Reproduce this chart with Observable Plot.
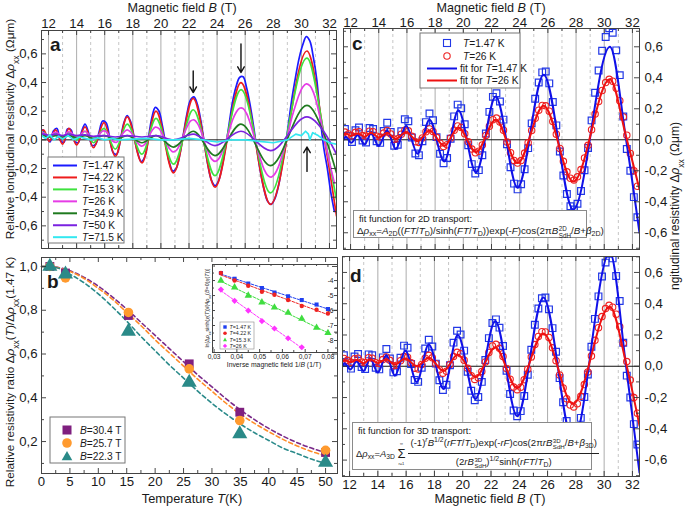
<!DOCTYPE html>
<html><head><meta charset="utf-8">
<script src="https://cdn.jsdelivr.net/npm/d3@7"></script>
<script src="https://cdn.jsdelivr.net/npm/@observablehq/plot@0.6"></script>
<style>
body{margin:0;background:#fff;}
#fig{position:relative;width:685px;height:508px;overflow:hidden;font-family:"Liberation Sans",Arial,sans-serif;color:#1a1a1a;background:#fff;}
#fig svg{position:absolute;left:0;top:0;}
.fbox{position:absolute;background:#fff;border:1px solid #8a8a8a;font-size:9.4px;color:#1a1a1a;white-space:nowrap;line-height:1;box-sizing:border-box;}
.fbox sub,.fbox sup{font-size:72%;line-height:0;}
.fbox sub{vertical-align:-0.3em}
.fbox sup{vertical-align:0.6em}
.ss{display:inline-block;vertical-align:-0.55em;font-size:64%;line-height:1.05;text-align:left;margin-left:0.5px}
.ss span{display:block}
.frac{display:inline-block;vertical-align:middle;text-align:center}
.frac .n{display:block;border-bottom:0.9px solid #222;padding:0 2px 2px}
.frac .d{display:block;padding-top:3px}
.sum{display:inline-flex;flex-direction:column;align-items:center;vertical-align:middle;gap:3px}
.sum .lim{display:block;font-size:4px;line-height:4px;height:4px}
.sum .sg{display:block;font-size:13px;line-height:10px;height:10px}
</style></head><body><div id="fig"></div>
<script>
// ---------- data ----------
// panel a: knots (field B in T) at extrema, and values of Δρxx (Ωμm) per temperature
const knotsB   = [11.5, 11.65, 12.05, 12.5, 13.0, 13.45, 14.0, 14.6, 15.2, 15.95, 16.75, 17.6, 18.65, 19.65, 20.9, 22.3, 23.85, 25.7, 27.8, 30.4, 31.65, 32.5];
const rho_T422 = [0.06, 0.07, -0.01, 0.07, -0.03, 0.08, -0.035, 0.09, -0.055, 0.12, -0.115, 0.16, -0.16, 0.20, -0.23, 0.29, -0.33, 0.40, -0.45, 0.62, 0.0, -0.53];
const rho_T153 = [0.05, 0.05, 0.02, 0.05, 0.01, 0.05, 0.0, 0.06, -0.02, 0.08, -0.065, 0.11, -0.10, 0.15, -0.17, 0.21, -0.25, 0.35, -0.37, 0.57, 0.02, -0.42];
const rho_T349 = [0.03, 0.03, 0.02, 0.03, 0.02, 0.03, 0.015, 0.03, 0.01, 0.03, 0.005, 0.03, -0.02, 0.03, -0.05, 0.06, -0.11, 0.11, -0.18, 0.24, 0.03, -0.23];
const rho_T50  = [0.04, 0.04, 0.03, 0.04, 0.03, 0.04, 0.03, 0.035, 0.025, 0.03, 0.02, 0.03, 0.02, 0.03, 0.0, 0.04, -0.04, 0.06, -0.075, 0.16, 0.05, -0.10];
const cyanB    = [11.5, 11.8, 12.1, 12.4, 12.7, 13.0, 13.4, 13.8, 14.2, 14.6, 15.0, 15.5, 16.0, 16.5, 17.0, 18.0, 19.0, 20.0, 21.0, 22.0, 23.0, 24.0, 25.0, 26.0, 27.0, 28.0, 29.0, 29.6, 30.0, 30.3, 30.5, 30.6, 30.8, 31.2, 31.6, 32.0, 32.5];
const rho_T715 = [0.03, 0.01, 0.035, 0.0, 0.025, 0.005, 0.03, 0.0, 0.02, 0.01, 0.0, 0.015, 0.0, 0.01, 0.0, 0.005, 0.01, 0.0, 0.0, 0.01, 0.0, -0.015, 0.0, 0.0, -0.01, -0.02, 0.0, 0.04, 0.03, 0.06, 0.04, 0.0, 0.05, 0.03, 0.0, -0.02, -0.03];
// measured points T=1.47 K and T=26 K (panels a, c, d)
const dataB = [11.6, 11.85, 12.1, 12.35, 12.6, 12.85, 13.1, 13.35, 13.6, 13.85,
  14.1, 14.35, 14.6, 14.85, 15.1, 15.35, 15.6, 15.85, 16.1, 16.35,
  16.6, 16.85, 17.1, 17.35, 17.6, 17.85, 18.1, 18.35, 18.6, 18.85,
  19.1, 19.35, 19.6, 19.85, 20.1, 20.35, 20.6, 20.85, 21.1, 21.35,
  21.6, 21.85, 22.1, 22.35, 22.6, 22.85, 23.1, 23.35, 23.6, 23.85,
  24.1, 24.35, 24.6, 24.85, 25.1, 25.35, 25.6, 25.85, 26.1, 26.35,
  26.6, 26.85, 27.1, 27.35, 27.6, 27.85, 28.1, 28.35, 28.6, 28.85,
  29.1, 29.35, 29.6, 29.85, 30.1, 30.35, 30.6, 30.85, 31.1, 31.35,
  31.6, 31.85, 32.1, 32.35];
const rho_T147 = [0.07, 0.025, -0.015, 0.062, 0.079, -0.005, -0.017, 0.076, 0.07, -0.01,
  -0.02, 0.057, 0.11, 0.05, -0.039, -0.032, 0.055, 0.132, 0.119, 0.015,
  -0.088, -0.10, -0.009, 0.114, 0.17, 0.126, 0.017, -0.09, -0.152, -0.118,
  0.007, 0.151, 0.227, 0.203, 0.10, -0.035, -0.157, -0.218, -0.196, -0.10,
  0.04, 0.18, 0.277, 0.30, 0.247, 0.13, -0.029, -0.177, -0.283, -0.32,
  -0.287, -0.19, -0.054, 0.106, 0.265, 0.37, 0.435, 0.44, 0.364, 0.244,
  0.093, -0.076, -0.23, -0.35, -0.429, -0.45, -0.413, -0.33, -0.197, -0.053,
  0.125, 0.303, 0.447, 0.574, 0.663, 0.72, 0.69, 0.577, 0.417, 0.15,
  -0.06, -0.20, -0.37, -0.50];
const rho_T26 = [0.05, 0.038, 0.026, 0.048, 0.052, 0.027, 0.024, 0.055, 0.052, 0.023,
  0.018, 0.043, 0.06, 0.038, 0.004, 0.006, 0.036, 0.062, 0.058, 0.022,
  -0.012, -0.017, 0.012, 0.052, 0.07, 0.054, 0.016, -0.022, -0.044, -0.032,
  0.012, 0.062, 0.089, 0.08, 0.039, -0.013, -0.06, -0.084, -0.074, -0.033,
  0.028, 0.088, 0.13, 0.14, 0.115, 0.062, -0.014, -0.083, -0.133, -0.15,
  -0.134, -0.086, -0.019, 0.06, 0.139, 0.191, 0.221, 0.219, 0.184, 0.118,
  0.036, -0.056, -0.139, -0.207, -0.248, -0.26, -0.239, -0.192, -0.117, -0.036,
  0.065, 0.166, 0.247, 0.318, 0.369, 0.39, 0.378, 0.333, 0.252, 0.147,
  0.03, -0.088, -0.20, -0.30];
// fit curves (panels c, d)
const fitB      = [11.5, 11.65, 12.05, 12.5, 13.0, 13.45, 14.0, 14.6, 15.2, 15.95, 16.75, 17.6, 18.65, 19.65, 20.9, 22.3, 23.85, 25.7, 27.8, 30.4, 31.55, 32.5];
const fit2D_147 = [0.0, 0.02, -0.02, 0.03, -0.03, 0.04, -0.04, 0.06, -0.06, 0.09, -0.09, 0.13, -0.14, 0.19, -0.21, 0.28, -0.31, 0.42, -0.45, 0.60, 0.0, -0.60];
const fit2D_26  = [0.035, 0.04, 0.025, 0.04, 0.02, 0.045, 0.015, 0.045, 0.005, 0.05, -0.01, 0.06, -0.04, 0.08, -0.08, 0.13, -0.15, 0.22, -0.27, 0.39, 0.02, -0.32];
const fit3D_147 = [0.0, 0.02, -0.02, 0.03, -0.03, 0.05, -0.04, 0.07, -0.06, 0.10, -0.10, 0.14, -0.145, 0.20, -0.21, 0.29, -0.32, 0.44, -0.48, 0.73, 0.0, -0.68];
const fit3D_26  = [0.035, 0.04, 0.025, 0.04, 0.02, 0.045, 0.02, 0.045, 0.01, 0.05, 0.0, 0.055, -0.03, 0.075, -0.07, 0.12, -0.14, 0.21, -0.24, 0.38, 0.02, -0.38];
// arrows in panel a
const arrowB = [22.3, 25.7, 30.4];
const arrowFrom = [0.48, 0.67, -0.22];
const arrowTo = [0.33, 0.47, -0.05];
// panel b
const tempK    = [1.47, 4.22, 15.3, 26, 34.9, 50];
const ratio304 = [1.0, 0.97, 0.776, 0.555, 0.334, 0.15];
const ratio257 = [1.0, 0.948, 0.79, 0.532, 0.296, 0.16];
const ratio223 = [1.0, 0.965, 0.703, 0.47, 0.235, 0.105];
const fitT      = [0, 2.5, 5, 7.5, 10, 12.5, 15, 17.5, 20, 22.5, 25, 27.5, 30, 32.5, 35, 37.5, 40, 42.5, 45, 47.5, 50];
const fitR304   = [1.0, 0.997, 0.98, 0.95, 0.91, 0.86, 0.805, 0.745, 0.685, 0.625, 0.565, 0.505, 0.45, 0.395, 0.345, 0.30, 0.26, 0.225, 0.195, 0.17, 0.15];
const fitR257   = [1.0, 0.996, 0.977, 0.945, 0.90, 0.85, 0.79, 0.73, 0.665, 0.605, 0.545, 0.485, 0.43, 0.375, 0.325, 0.283, 0.245, 0.21, 0.18, 0.155, 0.135];
const fitR223   = [1.0, 0.995, 0.965, 0.925, 0.875, 0.815, 0.75, 0.68, 0.615, 0.55, 0.49, 0.43, 0.375, 0.325, 0.28, 0.24, 0.205, 0.17, 0.145, 0.12, 0.10];
// inset
const invB    = [0.033, 0.039, 0.045, 0.051, 0.0565, 0.0625, 0.0685, 0.075, 0.08];
const ln_T147 = [-3.5, -3.88, -4.2, -4.5, -4.8, -5.05, -5.3, -5.6, -5.9];
const ln_T422 = [-3.5, -4.0, -4.35, -4.75, -4.95, -5.3, -5.7, -5.95, -6.2];
const ln_T153 = [-4.0, -4.45, -5.0, -5.45, -5.8, -6.15, -6.55, -7.15, -7.5];
const ln_T26  = [-4.6, -5.35, -6.0, -6.7, -7.2, -7.85, -8.45];
// tick labels
const majorB = [12, 14, 16, 18, 20, 22, 24, 26, 28, 30, 32];
const minorB = [13, 15, 17, 19, 21, 23, 25, 27, 29, 31];
const majorRho = [-0.6, -0.4, -0.2, 0, 0.2, 0.4, 0.6];
const minorRho = [-0.7, -0.5, -0.3, -0.1, 0.1, 0.3, 0.5, 0.7];
const majorT = [0, 5, 10, 15, 20, 25, 30, 35, 40, 45, 50];
const minorT = [2.5, 7.5, 12.5, 17.5, 22.5, 27.5, 32.5, 37.5, 42.5, 47.5];
const majorRatio = [0.2, 0.4, 0.6, 0.8, 1.0];
const minorRatio = [0.1, 0.3, 0.5, 0.7, 0.9];
const majorInv = [0.03, 0.04, 0.05, 0.06, 0.07, 0.08];
const minorInv = [0.035, 0.045, 0.055, 0.065, 0.075];
const majorLn = [-4, -5, -6, -7, -8];
const minorLn = [-3.5, -4.5, -5.5, -6.5, -7.5, -8.5];

// ---------- colours ----------
const C = {b147:"#1a1aff", r422:"#ee1c1c", g153:"#3ee23e", m26:"#e63ce6", g349:"#1f7a1f", p50:"#7a22e0", c715:"#33e8f0",
  sq:"#2238e6", ci:"#ee2222", fitB:"#1010e8", fitR:"#ee1111",
  pu:"#7f1f7f", or:"#ff9a2e", te:"#2a8a88"};

// ---------- helpers ----------
const fig = document.getElementById("fig");
const FONT = '"Liberation Sans", Arial, sans-serif';
const W = 685, H = 508;
const fmt1 = d => d.toFixed(1).replace(".", ",");
const fmtI = d => String(d);
const fmt2 = d => d.toFixed(2).replace(".", ",");
const zip = (xs, ys) => ys.map((v, i) => ({x: xs[i], y: v}));

function panel(frame, xDomain, yDomain, marks, fs = "13.2px") {
  const [x0, y0, x1, y1] = frame;
  return Plot.plot({
    width: W, height: H,
    marginLeft: x0, marginRight: W - x1, marginTop: y0, marginBottom: H - y1,
    x: {domain: xDomain, axis: null}, y: {domain: yDomain, axis: null},
    style: {background: "transparent", fontFamily: FONT, fontSize: fs, color: "#1a1a1a", overflow: "visible", position: "absolute", left: "0px", top: "0px"},
    marks
  });
}
function tx(vals, frame, len, side) {
  const fh = frame[3] - frame[1];
  return Plot.tickX(vals, {x: d => d, stroke: "#333", strokeWidth: 0.9, ...(side === "top" ? {insetBottom: fh - len} : {insetTop: fh - len})});
}
function ty(vals, frame, len, side) {
  const fw = frame[2] - frame[0];
  return Plot.tickY(vals, {y: d => d, stroke: "#333", strokeWidth: 0.9, ...(side === "left" ? {insetRight: fw - len} : {insetLeft: fw - len})});
}
function boxTicks(frame, xMaj, xMin, yMaj, yMin, big = 5, small = 3) {
  return [
    tx(xMaj, frame, big, "top"), tx(xMaj, frame, big, "bottom"), tx(xMin, frame, small, "top"), tx(xMin, frame, small, "bottom"),
    ty(yMaj, frame, big, "left"), ty(yMaj, frame, big, "right"), ty(yMin, frame, small, "left"), ty(yMin, frame, small, "right")
  ];
}
function gridB() {
  return [
    Plot.ruleX(minorB, {stroke: "#b8b8b8", strokeDasharray: "3,3", strokeWidth: 0.8}),
    Plot.ruleX(majorB, {stroke: "#a3a3a3", strokeWidth: 0.9}),
    Plot.ruleY([0], {stroke: "#111", strokeWidth: 1})
  ];
}
const pts147 = zip(dataB, rho_T147);
const pts26 = zip(dataB, rho_T26);

// ---------- panel a ----------
const FA = [41, 30, 336, 248];
const linesA = [
  [zip(dataB, rho_T147), C.b147, "catmull-rom"],
  [zip(knotsB, rho_T422), C.r422, "monotone-x"],
  [zip(knotsB, rho_T153), C.g153, "monotone-x"],
  [zip(dataB, rho_T26), C.m26, "catmull-rom"],
  [zip(knotsB, rho_T349), C.g349, "monotone-x"],
  [zip(knotsB, rho_T50), C.p50, "monotone-x"],
  [zip(cyanB, rho_T715), C.c715, "linear"]
];
const arrows = arrowB.map((b, i) => ({b, y1: arrowFrom[i], y2: arrowTo[i]}));
fig.append(panel(FA, [11.5, 32.5], [-0.758, 0.763], [
  ...gridB(),
  ...linesA.map(([d, c, cv]) => Plot.line(d, {x: "x", y: "y", stroke: c, strokeWidth: 1.7, curve: cv, clip: true})),
  Plot.arrow(arrows, {x1: "b", x2: "b", y1: "y1", y2: "y2", stroke: "#111", strokeWidth: 1.4, headLength: 7}),
  ...boxTicks(FA, majorB, minorB, majorRho, minorRho),
  Plot.frame({stroke: "#444"}),
  Plot.axisX({anchor: "top", ticks: majorB, tickSize: 0, tickPadding: 3, tickFormat: fmtI, label: null}),
  Plot.axisY({anchor: "left", ticks: majorRho, tickSize: 0, tickPadding: 4, tickFormat: fmt1, label: null})
]));

// ---------- panel c ----------
const FC = [343, 28, 639, 249];
fig.append(panel(FC, [11.5, 32.5], [-0.708, 0.718], [
  ...gridB(),
  Plot.dot(pts147, {x: "x", y: "y", symbol: "square", r: 3.8, stroke: C.sq, strokeWidth: 1.2, fill: "none", clip: true}),
  Plot.dot(pts26, {x: "x", y: "y", r: 3.2, stroke: C.ci, strokeWidth: 1.1, fill: "none", clip: true}),
  Plot.line(zip(fitB, fit2D_147), {x: "x", y: "y", stroke: C.fitB, strokeWidth: 2, curve: "monotone-x", clip: true}),
  Plot.line(zip(fitB, fit2D_26), {x: "x", y: "y", stroke: C.fitR, strokeWidth: 2, curve: "monotone-x", clip: true}),
  ...boxTicks(FC, majorB, minorB, majorRho, minorRho),
  Plot.frame({stroke: "#444"}),
  Plot.axisX({anchor: "top", ticks: majorB, tickSize: 0, tickPadding: 2, tickFormat: fmtI, label: null}),
  Plot.axisY({anchor: "right", ticks: majorRho, tickSize: 0, tickPadding: 5, tickFormat: fmt1, label: null})
]));

// ---------- panel d ----------
const FD = [342, 256, 639, 476];
fig.append(panel(FD, [11.5, 32.5], [-0.705, 0.702], [
  ...gridB(),
  Plot.dot(pts147, {x: "x", y: "y", symbol: "square", r: 3.8, stroke: C.sq, strokeWidth: 1.2, fill: "none", clip: true}),
  Plot.dot(pts26, {x: "x", y: "y", r: 3.2, stroke: C.ci, strokeWidth: 1.1, fill: "none", clip: true}),
  Plot.line(zip(fitB, fit3D_147), {x: "x", y: "y", stroke: C.fitB, strokeWidth: 2, curve: "monotone-x", clip: true}),
  Plot.line(zip(fitB, fit3D_26), {x: "x", y: "y", stroke: C.fitR, strokeWidth: 2, curve: "monotone-x", clip: true}),
  ...boxTicks(FD, majorB, minorB, majorRho, minorRho),
  Plot.frame({stroke: "#444"}),
  Plot.axisX({anchor: "bottom", ticks: majorB, tickSize: 0, tickPadding: 3, tickFormat: fmtI, label: null}),
  Plot.axisY({anchor: "right", ticks: majorRho, tickSize: 0, tickPadding: 5, tickFormat: fmt1, label: null})
]));

// ---------- panel b ----------
const FB = [41, 257, 337, 473];
fig.append(panel(FB, [0, 52.1], [0.054, 1.041], [
  Plot.line(zip(fitT, fitR304), {x: "x", y: "y", stroke: "#7a2a8a", strokeWidth: 1.6, strokeDasharray: "4,3", curve: "monotone-x"}),
  Plot.line(zip(fitT, fitR257), {x: "x", y: "y", stroke: "#ff8c28", strokeWidth: 1.6, strokeDasharray: "4,3", curve: "monotone-x"}),
  Plot.line(zip(fitT, fitR223), {x: "x", y: "y", stroke: "#2a8a8a", strokeWidth: 1.6, strokeDasharray: "4,3", curve: "monotone-x"}),
  Plot.dot(zip(tempK, ratio304), {x: "x", y: "y", symbol: "square", r: 5, fill: C.pu}),
  Plot.dot(zip(tempK, ratio257), {x: "x", y: "y", symbol: "circle", r: 4.8, fill: C.or}),
  Plot.dot(zip(tempK, ratio223), {x: "x", y: "y", symbol: "triangle", r: 5.6, fill: C.te}),
  ...boxTicks(FB, majorT, minorT, majorRatio, minorRatio),
  Plot.frame({stroke: "#444"}),
  Plot.axisX({anchor: "bottom", ticks: majorT, tickSize: 0, tickPadding: 3, tickFormat: fmtI, label: null}),
  Plot.axisY({anchor: "left", ticks: majorRatio, tickSize: 0, tickPadding: 4, tickFormat: fmt1, label: null})
]));

// ---------- inset ----------
const FI = [212, 264, 337, 352];
const insetSets = [
  [ln_T147, "square", "#1f3ff0", 2.3],
  [ln_T422, "circle", "#ee2222", 2.2],
  [ln_T153, "triangle", "#3fdd3f", 2.7],
  [ln_T26, "diamond2", "#ff33ff", 2.8]
];
fig.append(panel(FI, [0.0293, 0.0842], [-8.8, -2.93], [
  ...insetSets.map(([ys, , c]) => Plot.linearRegressionY(zip(invB, ys), {x: "x", y: "y", stroke: c, strokeWidth: 1, strokeDasharray: "2.5,1.5", ci: 0})),
  ...insetSets.map(([ys, s, c, r]) => Plot.dot(zip(invB, ys), {x: "x", y: "y", symbol: s, r, fill: c})),
  ...boxTicks(FI, majorInv, minorInv, majorLn, minorLn, 3, 2),
  Plot.frame({stroke: "#444"}),
  Plot.axisX({anchor: "bottom", ticks: majorInv, tickSize: 0, tickPadding: 2, tickFormat: fmt2, label: null, fontSize: 6.6}),
  Plot.text(majorLn, {y: d => d, text: fmtI, frameAnchor: "right", textAnchor: "end", dx: -4, fontSize: 6.6})
], "6.6px"));

// ---------- overlay text & legends ----------
const it = s => `<tspan font-style="italic">${s}</tspan>`;
const sb = (s, fs) => `<tspan baseline-shift="sub" font-size="${fs}">${s}</tspan>`;
const legA = [[C.b147, "1.47"], [C.r422, "4.22"], [C.g153, "15.3"], [C.m26, "26"], [C.g349, "34.9"], [C.p50, "50"], [C.c715, "71.5"]];
let s = `<svg width="685" height="508" xmlns="http://www.w3.org/2000/svg" font-family='${FONT}' fill="#1a1a1a" style="position:absolute;left:0;top:0">`;
// axis titles
s += `<text x="182" y="11.5" text-anchor="middle" font-size="12.6">Magnetic field  ${it("B")} (T)</text>`;
s += `<text x="491" y="11.5" text-anchor="middle" font-size="12.6">Magnetic field  ${it("B")} (T)</text>`;
s += `<text x="490" y="503" text-anchor="middle" font-size="12.8">Magnetic field  ${it("B")} (T)</text>`;
s += `<text x="192" y="503" text-anchor="middle" font-size="12.8">Temperature  ${it("T")}(K)</text>`;
s += `<text transform="translate(14,129) rotate(-90)" text-anchor="middle" font-size="11.8">Relative longitudinal resistivity  Δ${it("ρ")}${sb("xx", 8.5)}<tspan> (Ωμm)</tspan></text>`;
s += `<text transform="translate(14,372) rotate(-90)" text-anchor="middle" font-size="11.8">Relative resistivity ratio  Δ${it("ρ")}${sb("xx", 8.5)}<tspan>(${it("T")})/Δ${it("ρ")}</tspan>${sb("xx", 8.5)}<tspan>(1.47 K)</tspan></text>`;
s += `<text transform="translate(679,290) rotate(-90)" text-anchor="start" font-size="12">ngitudinal resistivity  Δ${it("ρ")}${sb("xx", 8.5)}<tspan> (Ωμm)</tspan></text>`;
// panel letters
s += `<text x="50" y="51" font-size="19" font-weight="bold">a</text>`;
s += `<text x="47" y="288" font-size="19" font-weight="bold">b</text>`;
s += `<text x="352" y="50" font-size="19" font-weight="bold">c</text>`;
s += `<text x="350" y="282" font-size="19" font-weight="bold">d</text>`;
// legend a
s += `<rect x="48" y="157" width="76" height="86" fill="#fff" stroke="#777"/>`;
legA.forEach(([c, t], i) => {
  const y = 165.5 + i * 11.95;
  s += `<line x1="53" x2="77" y1="${y}" y2="${y}" stroke="${c}" stroke-width="2"/>`;
  s += `<text x="82" y="${y + 3.6}" font-size="10.2">${it("T")}=${t} K</text>`;
});
// legend c
s += `<rect x="420" y="33" width="100" height="55" fill="#fff" stroke="#777"/>`;
s += `<rect x="443.5" y="39.5" width="7" height="7" fill="none" stroke="${C.sq}" stroke-width="1.1"/>`;
s += `<text x="463" y="46.5" font-size="10.2">${it("T")}=1.47 K</text>`;
s += `<circle cx="447" cy="56" r="3.2" fill="none" stroke="${C.ci}" stroke-width="1.1"/>`;
s += `<text x="463" y="59.5" font-size="10.2">${it("T")}=26 K</text>`;
s += `<line x1="427" x2="457" y1="68.5" y2="68.5" stroke="${C.fitB}" stroke-width="2"/>`;
s += `<text x="460" y="72" font-size="10.2">fit for  ${it("T")}=1.47 K</text>`;
s += `<line x1="427" x2="457" y1="80.5" y2="80.5" stroke="${C.fitR}" stroke-width="2"/>`;
s += `<text x="460" y="84" font-size="10.2">fit for  ${it("T")}=26 K</text>`;
// legend b
s += `<rect x="50" y="417" width="75" height="46" fill="#fff" stroke="#777"/>`;
s += `<rect x="62.5" y="425.5" width="9" height="9" fill="${C.pu}"/>`;
s += `<text x="80" y="433.5" font-size="10.2">${it("B")}=30.4 T</text>`;
s += `<circle cx="67" cy="443" r="4.8" fill="${C.or}"/>`;
s += `<text x="80" y="446.5" font-size="10.2">${it("B")}=25.7 T</text>`;
s += `<path d="M67,451 L72.3,460.2 L61.7,460.2 Z" fill="${C.te}"/>`;
s += `<text x="80" y="459.5" font-size="10.2">${it("B")}=22.3 T</text>`;
// inset legend & titles
s += `<rect x="220" y="322" width="34" height="27" fill="#fff" stroke="#888" stroke-width="0.6"/>`;
const legI = [["1.47", "#1f3ff0"], ["4.22", "#ee2222"], ["15.3", "#3fdd3f"], ["26", "#ff33ff"]];
legI.forEach(([t, c], i) => {
  const y = 327 + i * 6.3;
  const mk = i === 0 ? `<rect x="${223.3}" y="${y - 1.7}" width="3.4" height="3.4" fill="${c}"/>` :
    i === 1 ? `<circle cx="225" cy="${y}" r="1.8" fill="${c}"/>` :
    i === 2 ? `<path d="M225,${y - 2} L227,${y + 1.6} L223,${y + 1.6} Z" fill="${c}"/>` :
    `<path d="M225,${y - 2.2} L227.2,${y} L225,${y + 2.2} L222.8,${y} Z" fill="${c}"/>`;
  s += mk + `<text x="229.5" y="${y + 1.9}" font-size="5.3">${it("T")}=${t} K</text>`;
});
s += `<text x="274" y="367" text-anchor="middle" font-size="6.8">Inverse magnetic field 1/${it("B")} (1/T)</text>`;
s += `<text transform="translate(209,308) rotate(-90)" text-anchor="middle" font-size="5.4">ln[Δ${it("ρ")}${sb("xx", 3.8)}<tspan>sinh(${it("χ")}(${it("T")}))/(4${it("ρ")}</tspan>${sb("xx", 3.8)}<tspan>(${it("B")}=0)${it("χ")}(${it("T")}))]</tspan></text>`;
s += `</svg>`;
fig.insertAdjacentHTML("beforeend", s);

// ---------- formula boxes ----------
const i_ = t => `<i>${t}</i>`;
const ss = (a, b) => `<span class="ss"><span>${a}</span><span>${b}</span></span>`;
fig.insertAdjacentHTML("beforeend",
  `<div class="fbox" style="left:353px;top:210px;width:234px;height:28px;">
     <div style="position:absolute;left:5px;top:3px">fit function for 2D transport:</div>
     <div style="position:absolute;left:3px;top:15px;font-size:9.8px">Δ${i_("ρ")}<sub>xx</sub>=${i_("A")}<sub>2D</sub>((${i_("FT")}/${i_("T")}<sub>D</sub>)/sinh(${i_("FT")}/${i_("T")}<sub>D</sub>))exp(-${i_("F")})cos(2π${i_("B")}${ss("2D", "SdH")}/${i_("B")}+${i_("β")}<sub>2D</sub>)</div>
   </div>`);
fig.insertAdjacentHTML("beforeend",
  `<div class="fbox" style="left:352px;top:422px;width:240px;height:48px;">
     <div style="position:absolute;left:5px;top:3px">fit function for 3D transport:</div>
     <div style="position:absolute;left:3px;top:14px;display:flex;align-items:center;height:33px">
       <span>Δ${i_("ρ")}<sub>xx</sub>=${i_("A")}<sub>3D</sub>&nbsp;</span>
       <span class="sum"><span class="lim">∞</span><span class="sg">Σ</span><span class="lim">r=1</span></span>
       <span class="frac" style="margin-left:3px;font-size:9.6px"><span class="n">(-1)<sup>${i_("r")}</sup>${i_("B")}<sup>1/2</sup>(${i_("rFT")}/${i_("T")}<sub>D</sub>)exp(-${i_("rF")})cos(2π${i_("rB")}${ss("3D", "SdH")}/${i_("B")}+${i_("β")}<sub>3D</sub>)</span><span class="d">(2${i_("rB")}${ss("3D", "SdH")})<sup>1/2</sup>sinh(${i_("rFT")}/${i_("T")}<sub>D</sub>)</span></span>
     </div>
   </div>`);
</script></body></html>
